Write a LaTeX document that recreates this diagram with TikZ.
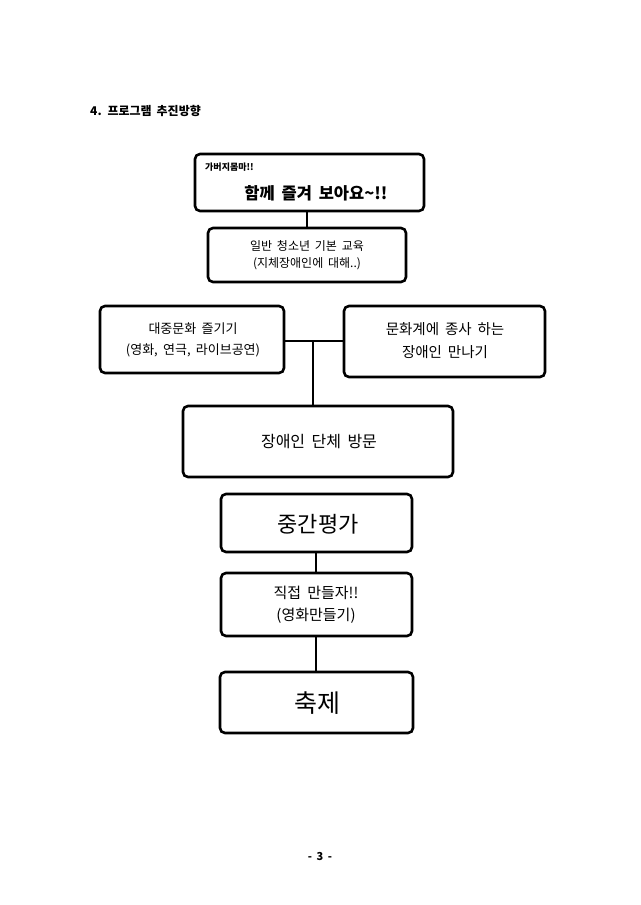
\documentclass[tikz,border=0pt]{standalone}
\usepackage{fontspec}
\setmainfont{Noto Sans CJK KR}[WordSpace=1.8]
\begin{document}
\begin{tikzpicture}[x=1pt,y=-1pt,
  box/.style={draw,line width=2.6pt,rounded corners=5pt,inner sep=0pt},
  conn/.style={line width=2.6pt},
  lbl/.style={align=center,inner sep=0pt}]
\useasboundingbox[fill=white] (0,0) rectangle (640,905);
\node[lbl,anchor=west,font=\fontsize{12}{14}\selectfont\bfseries] (hdr) at (90,111) {4. 프로그램 추진방향};
% boxes
\draw[box] (195,154) rectangle (424,211);
\node[lbl,anchor=west,font=\fontsize{9}{10}\selectfont\bfseries] (b1a) at (205,167) {가버지몸마!!};
\node[lbl,font=\fontsize{16.5}{18}\selectfont\bfseries] (b1b) at (316,193) {함께 즐겨 보아요\textasciitilde!!};
\draw[box] (208,228) rectangle (406,282);
\node[lbl,font=\fontsize{12}{17}\selectfont] (b2) at (307,255) {일반 청소년 기본 교육\\(지체장애인에 대해..)};
\draw[box] (100,306) rectangle (284,373);
\node[lbl,font=\fontsize{13}{21}\selectfont] (b3) at (193,340) {대중문화 즐기기\\(영화, 연극, 라이브공연)};
\draw[box] (344,306) rectangle (545,377);
\node[lbl,font=\fontsize{14.5}{23}\selectfont] (b4) at (445,341) {문화계에 종사 하는\\장애인 만나기};
\draw[box] (183,406) rectangle (453,477);
\node[lbl,font=\fontsize{16}{20}\selectfont] (b5) at (319,442) {장애인 단체 방문};
\draw[box] (221,494) rectangle (412,552);
\node[lbl,font=\fontsize{22}{26}\selectfont] (b6) at (318,524) {중간평가};
\draw[box] (221,573) rectangle (412,636);
\node[lbl,font=\fontsize{15}{22}\selectfont] (b7) at (316,605) {직접 만들자!!\\(영화만들기)};
\draw[box] (220,672) rectangle (413,733);
\node[lbl,font=\fontsize{25}{30}\selectfont] (b8) at (317,703) {축제};
% connectors
\coordinate (c1t) at (307,211); \coordinate (c1b) at (307,228);
\draw[conn] (c1t) -- (c1b);
\coordinate (hl) at (284,341); \coordinate (hr) at (344,341); \coordinate (hm) at (313,341); \coordinate (vb) at (313,406);
\draw[conn] (hl) -- (hr);
\draw[conn] (hm) -- (vb);
\coordinate (c6b) at (316,552); \coordinate (c7t) at (316,573);
\draw[conn] (c6b) -- (c7t);
\coordinate (c7b) at (316,636); \coordinate (c8t) at (316,672);
\draw[conn] (c7b) -- (c8t);
\node[lbl,font=\fontsize{11}{13}\selectfont\bfseries] (pg) at (320,856) {- 3 -};
\end{tikzpicture}
\end{document}
